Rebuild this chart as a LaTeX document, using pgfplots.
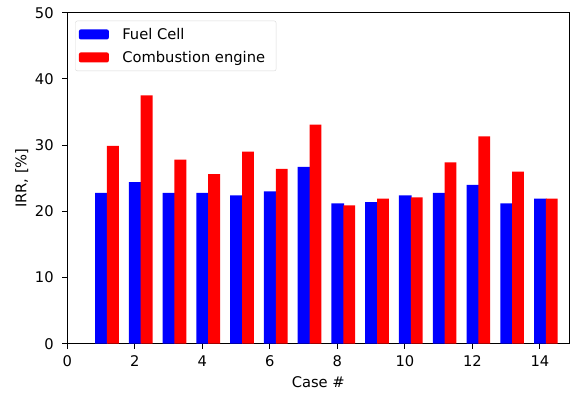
\documentclass[border=0pt]{standalone}
\usepackage{pgfplots}
\pgfplotsset{compat=1.18}
\usepackage{fontspec}
\setmainfont{DejaVu Sans}

\definecolor{fcblue}{RGB}{0,0,255}
\definecolor{cered}{RGB}{255,0,0}

\begin{document}
\begin{tikzpicture}
\useasboundingbox (0,0) rectangle (570bp,394bp);
\begin{axis}[
  at={(67.3bp,50.3bp)}, anchor=south west,
  scale only axis, width=502bp, height=331bp,
  xmin=0, xmax=14.87, ymin=0, ymax=50,
  xtick={0,2,...,14}, ytick={0,10,...,50},
  tick align=outside, tick pos=left,
  major tick length=4.9bp,
  every tick/.style={black, line width=1.1bp},
  axis line style={line width=1.1bp},
  font=\fontsize{14.7bp}{17bp}\selectfont,
  /pgf/number format/assume math mode=true,
  xticklabel style={inner ysep=0pt, yshift=-7.2bp},
  yticklabel style={inner xsep=0pt, xshift=-8.5bp},
  xlabel={Case \#},
  ylabel={IRR, [\%]},
  xlabel style={at={(axis description cs:0.5,-0.1157)}, anchor=center},
  ylabel style={at={(axis description cs:-0.0907,0.5)}, anchor=center},
  legend cell align=left,
  legend style={
    at={(axis description cs:0.0159,0.9758)}, anchor=north west,
    draw=black!15, rounded corners=2bp, fill=white,
    inner xsep=3.4bp, inner ysep=2bp,
    row sep=0bp, column sep=11.4bp,
    nodes={inner xsep=2bp, inner ysep=1bp, text height=15.4bp, text depth=5.6bp},
    font=\fontsize{14.7bp}{17bp}\selectfont,
  },
  legend image code/.code={\fill[#1] (0bp,-5bp) rectangle (30bp,5bp);},
]
% bars 0.35 wide: fuel cell centred on the case number, engine right beside it
% (the blue bar reaches a little under the red one so no seam shows)
\addplot[ybar, bar width=12.6bp, bar shift=0.4bp, fill=fcblue, draw=none]
  coordinates {(1,22.8) (2,24.4) (3,22.8) (4,22.8) (5,22.4) (6,23.0) (7,26.7)
               (8,21.2) (9,21.4) (10,22.4) (11,22.8) (12,24.0) (13,21.2) (14,21.9)};
\addlegendentry{Fuel Cell}
\addplot[ybar, bar width=11.815bp, bar shift=11.815bp, fill=cered, draw=none]
  coordinates {(1,29.9) (2,37.5) (3,27.8) (4,25.6) (5,29.0) (6,26.4) (7,33.1)
               (8,20.9) (9,21.9) (10,22.1) (11,27.4) (12,31.3) (13,26.0) (14,21.9)};
\addlegendentry{Combustion engine\hspace*{5.6bp}}
\end{axis}
\end{tikzpicture}
\end{document}
